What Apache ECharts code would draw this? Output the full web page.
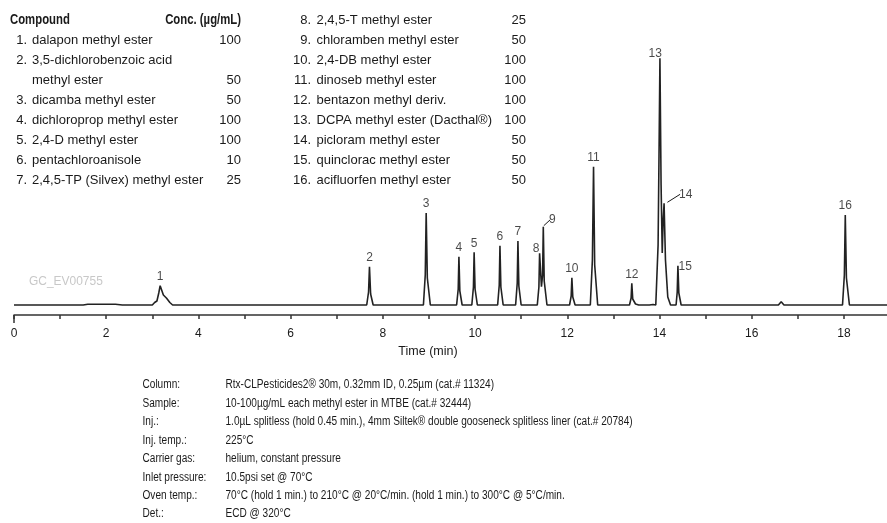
<!DOCTYPE html>
<html>
<head>
<meta charset="utf-8">
<script src="https://cdn.jsdelivr.net/npm/echarts@6/dist/echarts.min.js"></script>
<style>
  html, body { margin: 0; padding: 0; background: #fff; }
  #main { width: 887px; height: 523px; }
</style>
</head>
<body>
<div id="main"></div>
<script>
// detector trace: [time (min), signal]
const trace = [
  [0, 0], [1.5, 0], [1.6, 0.8], [2.2, 0.8], [2.35, 0],
  [3.0, 0], [3.05, 2.5], [3.1, 4], [3.14, 12], [3.17, 19.3], [3.24, 10], [3.31, 6.7], [3.38, 2.5], [3.44, 0],
  [7.65, 0], [7.69, 13], [7.71, 38.3], [7.735, 11], [7.79, 0],
  [8.88, 0], [8.92, 30], [8.94, 92], [8.965, 27], [9.03, 0],
  [9.6, 0], [9.635, 16], [9.65, 48.3], [9.67, 14], [9.72, 0],
  [9.93, 0], [9.965, 18], [9.98, 52.7], [10.0, 16], [10.05, 0],
  [10.49, 0], [10.525, 20], [10.54, 59.3], [10.56, 18], [10.61, 0],
  [10.88, 0], [10.915, 22], [10.93, 64], [10.95, 19], [11.0, 0],
  [11.35, 0], [11.385, 18], [11.4, 51.7], [11.44, 18.3], [11.465, 30], [11.48, 78.3], [11.5, 24], [11.56, 0],
  [12.05, 0], [12.085, 9], [12.1, 27.3], [12.12, 8], [12.17, 0],
  [12.5, 0], [12.545, 45], [12.57, 138.3], [12.595, 40], [12.66, 0],
  [13.35, 0], [13.385, 7], [13.4, 21.7], [13.42, 6], [13.48, 1], [13.55, 0],
  [13.78, 0], [13.82, 1.5], [13.86, 0.5],
  [13.92, 0], [13.97, 60], [13.99, 150], [14.01, 246.7], [14.035, 120], [14.06, 52], [14.08, 85], [14.1, 101.7],
  [14.13, 45], [14.18, 8], [14.24, 0],
  [14.36, 0], [14.385, 13], [14.4, 39.3], [14.42, 12], [14.47, 0],
  [16.58, 0], [16.64, 3.3], [16.7, 0],
  [17.97, 0], [18.01, 30], [18.03, 90], [18.055, 27], [18.12, 0],
  [19, 0]
];

const peakNumbers = ['1', '2', '3', '4', '5', '6', '7', '8', '9', '10', '11', '12', '13', '14', '15', '16'];
const peakTimes = [3.17, 7.71, 8.94, 9.65, 9.98, 10.54, 10.93, 11.4, 11.48, 12.1, 12.57, 13.4, 14.01, 14.1, 14.4, 18.03];
const peakHeights = [19.3, 38.3, 92, 48.3, 52.7, 59.3, 64, 51.7, 78.3, 27.3, 138.3, 21.7, 246.7, 101.7, 39.3, 90];

const tickLabels = [0, 2, 4, 6, 8, 10, 12, 14, 16, 18];

const compoundsLeft = [
  'dalapon methyl ester',
  '3,5-dichlorobenzoic acid\nmethyl ester',
  'dicamba methyl ester',
  'dichloroprop methyl ester',
  '2,4-D methyl ester',
  'pentachloroanisole',
  '2,4,5-TP (Silvex) methyl ester'
];
const concLeft = [100, 50, 50, 100, 100, 10, 25];
const compoundsRight = [
  '2,4,5-T methyl ester',
  'chloramben methyl ester',
  '2,4-DB methyl ester',
  'dinoseb methyl ester',
  'bentazon methyl deriv.',
  'DCPA methyl ester (Dacthal®)',
  'picloram methyl ester',
  'quinclorac methyl ester',
  'acifluorfen methyl ester'
];
const concRight = [25, 50, 100, 100, 100, 100, 50, 50, 50];

const conditionLabels = ['Column:', 'Sample:', 'Inj.:', 'Inj. temp.:', 'Carrier gas:', 'Inlet pressure:', 'Oven temp.:', 'Det.:'];
const conditionValues = [
  'Rtx-CLPesticides2® 30m, 0.32mm ID, 0.25µm (cat.# 11324)',
  '10-100µg/mL each methyl ester in MTBE (cat.# 32444)',
  '1.0µL splitless (hold 0.45 min.), 4mm Siltek® double gooseneck splitless liner (cat.# 20784)',
  '225°C',
  'helium, constant pressure',
  '10.5psi set @ 70°C',
  '70°C (hold 1 min.) to 210°C @ 20°C/min. (hold 1 min.) to 300°C @ 5°C/min.',
  'ECD @ 320°C'
];

const SANS = '"Liberation Sans", Arial, sans-serif';
const INK = '#1a1a1a';

// peaks whose number sits off-centre in the original
const labelShift = {
  '8': [-3.5, 4], '9': [9, 2], '13': [-4.7, 4], '14': [21.7, 0], '15': [7.3, 9.5]
};

const chart = echarts.init(document.getElementById('main'));

chart.setOption({
  animation: false,
  backgroundColor: '#fff',
  grid: { left: 14, top: 55, width: 876, height: 260, outerBoundsMode: 'none', containLabel: false },
  xAxis: {
    type: 'value',
    min: 0,
    max: 19,
    interval: 1,
    splitLine: { show: false },
    axisLine: { onZero: false, lineStyle: { color: '#333', width: 1.5 } },
    axisTick: { length: 4, lineStyle: { color: '#333', width: 1.5 } },
    axisLabel: {
      margin: 13,
      color: INK,
      fontFamily: SANS,
      fontSize: 12,
      formatter: v => (tickLabels.indexOf(v) >= 0 ? String(v) : '')
    },
    name: 'Time (min)',
    nameLocation: 'middle',
    nameGap: 30,
    nameTextStyle: { color: INK, fontFamily: SANS, fontSize: 12.5, padding: [0, 48, 0, 0] }
  },
  yAxis: { type: 'value', min: -10, max: 250, show: false },
  series: [
    {
      type: 'line',
      data: trace,
      symbol: 'none',
      lineStyle: { color: '#222', width: 1.6 },
      silent: true
    },
    {
      type: 'scatter',
      symbolSize: 0,
      silent: true,
      data: peakTimes.map((t, i) => ({
        name: peakNumbers[i],
        value: [t, peakHeights[i]],
        label: { offset: labelShift[peakNumbers[i]] || [0, 0] }
      })),
      label: {
        show: true,
        position: 'top',
        distance: 3,
        formatter: '{b}',
        color: INK,
        fontFamily: SANS,
        fontSize: 12
      }
    }
  ]
});

function text(x, y, str, font, extra, sx) {
  return {
    type: 'text',
    x: x,
    y: y,
    scaleX: sx || 1,
    silent: true,
    style: Object.assign({ text: str, font: font, fill: INK, verticalAlign: 'middle' }, extra || {})
  };
}

const g = [];
const listFont = '13px ' + SANS;
const headFont = 'bold 14px ' + SANS;

g.push(text(10, 20, 'Compound', headFont, null, 0.81));
g.push(text(241, 20, 'Conc. (µg/mL)', headFont, { align: 'right' }, 0.81));

function column(names, concs, firstNo, xNo, xName, xConc) {
  let row = 0;
  names.forEach((nm, i) => {
    const y0 = 40 + row * 20 - (firstNo > 1 ? 20 : 0);
    const lines = nm.split('\n');
    g.push(text(xNo, y0, (firstNo + i) + '.', listFont, { align: 'right' }));
    lines.forEach((ln, k) => g.push(text(xName, y0 + k * 20, ln, listFont)));
    g.push(text(xConc, y0 + (lines.length - 1) * 20, String(concs[i]), listFont, { align: 'right' }));
    row += lines.length;
  });
}
column(compoundsLeft, concLeft, 1, 27, 32, 241);
column(compoundsRight, concRight, 8, 311, 316.5, 526);

g.push(text(29, 281, 'GC_EV00755', '13px ' + SANS, { fill: '#c8c8c8' }, 0.92));

const condFont = '12px ' + SANS;
conditionLabels.forEach((lab, i) => {
  const y = 385 + i * 18.45;
  g.push(text(142.5, y, lab, condFont, null, 0.84));
  g.push(text(225.5, y, conditionValues[i], condFont, null, 0.84));
});

// leader lines for 9 and 14, and the longer tick at zero
function leader(idx, sx, sy, ex, ey) {
  const p = chart.convertToPixel({ gridIndex: 0 }, [peakTimes[idx], peakHeights[idx]]);
  g.push({
    type: 'line', silent: true,
    shape: { x1: p[0] + sx, y1: p[1] + sy, x2: p[0] + ex, y2: p[1] + ey },
    style: { stroke: INK, lineWidth: 1 }
  });
}
leader(8, 0.5, -1, 7, -7);
leader(13, 3.3, -1, 16, -9);

const zero = chart.convertToPixel({ gridIndex: 0 }, [0, -10]);
g.push({
  type: 'line', silent: true,
  shape: { x1: zero[0], y1: zero[1], x2: zero[0], y2: zero[1] + 8 },
  style: { stroke: '#333', lineWidth: 1.5 }
});

chart.setOption({ graphic: g });
</script>
</body>
</html>
